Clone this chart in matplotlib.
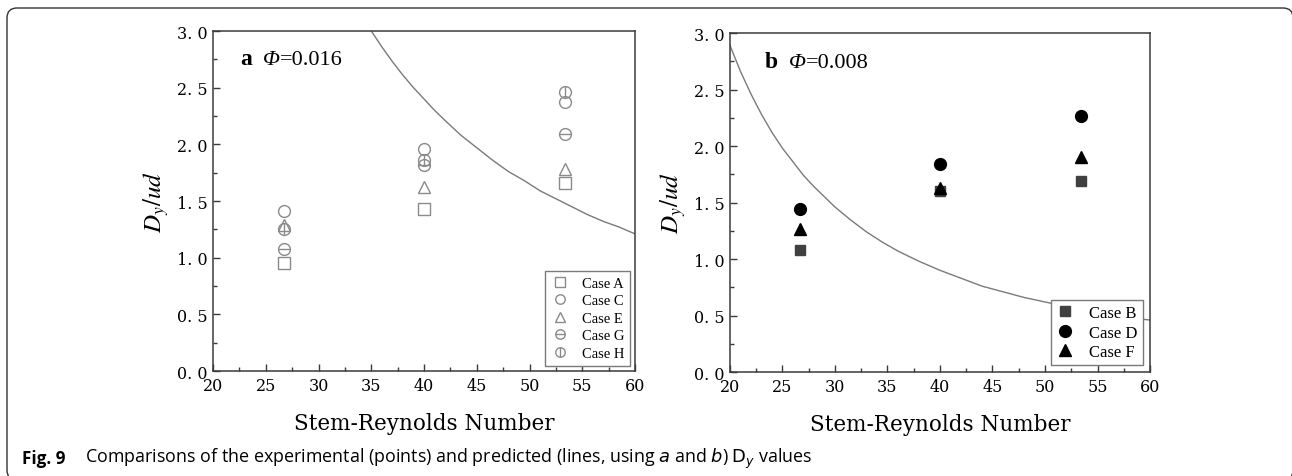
import matplotlib
matplotlib.use("Agg")
import matplotlib.pyplot as plt
from matplotlib.patches import FancyBboxPatch
from matplotlib.transforms import IdentityTransform
from matplotlib.offsetbox import TextArea, HPacker, AnchoredOffsetbox

plt.rcParams["mathtext.fontset"] = "stix"

# data
re = [26.7, 40.0, 53.4]

# panel a, Phi = 0.016
case_a = [0.95, 1.43, 1.66]
case_c = [1.41, 1.96, 2.37]
case_e = [1.29, 1.62, 1.78]
case_g = [1.08, 1.82, 2.09]
case_h = [1.25, 1.86, 2.46]
curve_a_x = [35.0, 35.5, 36.0, 37.0, 38.0, 39.0, 40.0, 41.0, 42.0, 43.5, 45.0, 46.5, 48.0,
             49.5, 51.0, 52.5, 54.0, 55.5, 57.0, 58.5, 60.0]
curve_a_y = [3.00, 2.93, 2.86, 2.73, 2.61, 2.50, 2.40, 2.30, 2.21, 2.08, 1.97, 1.86, 1.76,
             1.68, 1.59, 1.52, 1.45, 1.38, 1.32, 1.27, 1.21]

# panel b, Phi = 0.008
case_b = [1.08, 1.60, 1.69]
case_d = [1.44, 1.84, 2.27]
case_f = [1.27, 1.63, 1.90]
curve_b_x = [20.0, 21.0, 22.0, 23.0, 24.0, 25.0, 26.0, 27.0, 28.0, 29.0, 30.0, 31.5, 33.0,
             34.5, 36.0, 38.0, 40.0, 42.0, 44.0, 46.0, 48.0, 50.0, 52.0, 54.0, 56.0, 58.0, 60.0]
curve_b_y = [2.89, 2.66, 2.46, 2.28, 2.12, 1.98, 1.86, 1.74, 1.64, 1.55, 1.46, 1.345, 1.24,
             1.15, 1.07, 0.98, 0.90, 0.83, 0.76, 0.71, 0.66, 0.62, 0.58, 0.545, 0.51, 0.48, 0.46]

xticks = [20, 25, 30, 35, 40, 45, 50, 55, 60]
xtick_labels = ["20", "25", "30", "35", "40", "45", "50", "55", "60"]
yticks = [0.0, 0.5, 1.0, 1.5, 2.0, 2.5, 3.0]
ytick_labels = ["0. 0", "0. 5", "1. 0", "1. 5", "2. 0", "2. 5", "3. 0"]

gray = "#8a8a8a"
spine_c = "#3a3a3a"
tick_font = "DejaVu Serif"

fig = plt.figure(figsize=(12.92, 4.77), dpi=100)
ax1 = fig.add_axes([0.1649, 0.2201, 0.3266, 0.7128])
ax2 = fig.add_axes([0.5650, 0.2180, 0.3251, 0.7107])


def style(ax):
    ax.set_xlim(20, 60)
    ax.set_ylim(0, 3.0)
    ax.set_xticks(xticks)
    ax.set_xticklabels(xtick_labels, fontfamily=tick_font, fontsize=11.5)
    ax.set_yticks(yticks)
    ax.set_yticklabels(ytick_labels, fontfamily=tick_font, fontsize=11.5)
    ax.set_xticks([22.5, 27.5, 32.5, 37.5, 42.5, 47.5, 52.5, 57.5], minor=True)
    ax.set_yticks([0.25, 0.75, 1.25, 1.75, 2.25, 2.75], minor=True)
    ax.tick_params(which="both", direction="in", color=spine_c, width=1.0)
    ax.tick_params(which="major", length=5, pad=4)
    ax.tick_params(which="minor", length=3)
    for s in ax.spines.values():
        s.set_color(spine_c)
        s.set_linewidth(1.1)
    ax.set_xlabel("Stem-Reynolds Number", fontfamily=tick_font, fontsize=15.5, labelpad=13)
    ax.set_ylabel(r"$D_y/ud$", fontsize=18, labelpad=4)


def panel_tag(ax, letter, phi, x, y):
    letter_box = TextArea(letter, textprops=dict(family="Liberation Serif", weight="bold", size=17))
    phi_box = HPacker(children=[
        TextArea("\u03a6", textprops=dict(family="Liberation Serif", style="italic", size=16)),
        TextArea("=" + phi, textprops=dict(family="Liberation Serif", size=16))],
        align="baseline", pad=0, sep=0)
    box = HPacker(children=[letter_box, phi_box], align="baseline", pad=0, sep=8)
    anc = AnchoredOffsetbox(loc="center left", child=box, frameon=False, pad=0, borderpad=0,
                            bbox_to_anchor=(x, y), bbox_transform=ax.transAxes)
    ax.add_artist(anc)


# panel a
ax1.plot(curve_a_x, curve_a_y, color="#7a7a7a", lw=1.0, zorder=1)
kw = dict(ls="none", ms=8.5, mfc="none", mec=gray, mew=1.0, color=gray)
ha, = ax1.plot(re, case_a, marker="s", **kw)
hc, = ax1.plot(re, case_c, marker="o", **kw)
he, = ax1.plot(re, case_e, marker="^", **kw)
hg1, = ax1.plot(re, case_g, marker="o", **kw)
hg2, = ax1.plot(re, case_g, marker="_", **kw)
hh1, = ax1.plot(re, case_h, marker="o", **kw)
hh2, = ax1.plot(re, case_h, marker="|", **kw)
style(ax1)
panel_tag(ax1, "a", "0.016", 0.064, 0.918)
leg1 = ax1.legend([ha, hc, he, (hg1, hg2), (hh1, hh2)],
                  ["Case A", "Case C", "Case E", "Case G", "Case H"],
                  loc="lower right", bbox_to_anchor=(0.988, 0.015), borderaxespad=0,
                  prop={"family": "Liberation Serif", "size": 10.5}, markerscale=0.8,
                  fancybox=False, edgecolor="#7a7a7a", framealpha=1,
                  labelspacing=0.3, handlelength=1.2, handletextpad=0.9, borderpad=0.4)
leg1.get_frame().set_linewidth(1.0)

# panel b
ax2.plot(curve_b_x, curve_b_y, color="#7a7a7a", lw=1.0, zorder=1)
hb, = ax2.plot(re, case_b, ls="none", marker="s", ms=6.5, color="#404040")
hd, = ax2.plot(re, case_d, ls="none", marker="o", ms=8.5, color="black")
hf, = ax2.plot(re, case_f, ls="none", marker="^", ms=8.5, color="black")
style(ax2)
panel_tag(ax2, "b", "0.008", 0.083, 0.917)
leg2 = ax2.legend([hb, hd, hf], ["Case B", "Case D", "Case F"],
                  loc="lower right", bbox_to_anchor=(0.983, 0.021), borderaxespad=0,
                  prop={"family": "Liberation Serif", "size": 12}, markerscale=1.0,
                  fancybox=False, edgecolor="#7a7a7a", framealpha=1,
                  labelspacing=0.2, handlelength=1.1, handletextpad=0.9, borderpad=0.3)
leg2.get_frame().set_linewidth(1.0)
leg2.set_zorder(5)

# caption and outer frame
fig.text(22 / 1292, 1 - 459 / 477, "Fig. 9", fontfamily="Open Sans", fontweight="bold",
         fontsize=12.3, va="center", ha="left")
fig.text(85 / 1292, 1 - 459 / 477,
         r"Comparisons of the experimental (points) and predicted (lines, using $a$ and $b$) $\mathrm{D}_y$ values",
         fontfamily="Open Sans", fontsize=12.9, va="center", ha="left", math_fontfamily="dejavusans")

frame = FancyBboxPatch((7, -4), 1286, 472, boxstyle="round,pad=0,rounding_size=10",
                       transform=IdentityTransform(), fill=False, lw=1.0, ec="#333333")
fig.patches.append(frame)

fig.savefig("out.png", dpi=100)
